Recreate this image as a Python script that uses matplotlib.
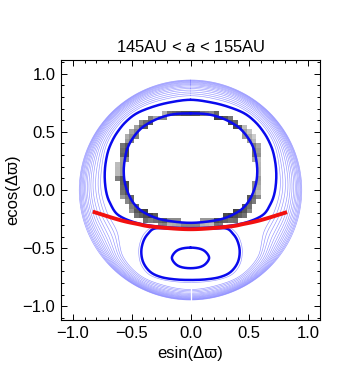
import numpy as np
import matplotlib
matplotlib.use('Agg')
import matplotlib.pyplot as plt
from matplotlib.ticker import MultipleLocator, FuncFormatter, FixedLocator

plt.rcParams['font.family'] = ['Liberation Sans', 'DejaVu Sans']
plt.rcParams['mathtext.fontset'] = 'custom'
plt.rcParams['mathtext.it'] = 'Liberation Sans:italic'
plt.rcParams['mathtext.rm'] = 'Liberation Sans'

# ---------------- data ----------------
title = "145AU < $a$ < 155AU"
xlabel = "esin(Δϖ)"
ylabel = "ecos(Δϖ)"
tick_values = [-1.0, -0.5, 0.0, 0.5, 1.0]

# symmetric curves: right halves (x >= 0) from top to bottom
inner_loop_x = [0.00, 0.15, 0.28, 0.40, 0.48, 0.535, 0.56, 0.567, 0.555, 0.52, 0.47, 0.40, 0.28, 0.14, 0.00]
inner_loop_y = [0.658, 0.650, 0.612, 0.545, 0.46, 0.36, 0.25, 0.15, 0.05, -0.05, -0.13, -0.19, -0.245, -0.272, -0.282]

outer_loop_x = [0.00, 0.174, 0.32, 0.458, 0.555, 0.628, 0.675, 0.705, 0.725, 0.728, 0.713, 0.68, 0.62, 0.50, 0.35, 0.18, 0.00]
outer_loop_y = [0.775, 0.753, 0.715, 0.658, 0.58, 0.487, 0.40, 0.315, 0.20, 0.086, -0.03, -0.12, -0.21, -0.27, -0.305, -0.322, -0.328]

lower_loop_x = [0.00, 0.16, 0.30, 0.36, 0.40, 0.418, 0.40, 0.34, 0.25, 0.13, 0.00]
lower_loop_y = [-0.333, -0.333, -0.33, -0.375, -0.44, -0.53, -0.625, -0.705, -0.748, -0.768, -0.773]

small_loop_x = [0.00, 0.08, 0.13, 0.158, 0.13, 0.08, 0.00]
small_loop_y = [-0.495, -0.505, -0.533, -0.583, -0.633, -0.662, -0.672]

island_contour_x = [0.00, 0.16, 0.31, 0.385, 0.425, 0.44, 0.422, 0.36, 0.26, 0.13, 0.00]
island_contour_y = [-0.318, -0.318, -0.315, -0.365, -0.44, -0.53, -0.635, -0.72, -0.765, -0.788, -0.794]

red_x = [-0.83, -0.60, -0.45, -0.32, 0.00, 0.32, 0.45, 0.60, 0.82]
red_y = [-0.186, -0.258, -0.292, -0.315, -0.337, -0.315, -0.292, -0.258, -0.19]

# light contours outside the separatrix (polar about origin, right side)
ring_angles_deg = [90, 75, 60, 45, 30, 15, 0, -15, -30, -45, -60, -75, -90]
ring_inner_r = [0.81, 0.81, 0.825, 0.83, 0.815, 0.78, 0.76, 0.735, 0.72, 0.81, 0.85, 0.85, 0.855]
ring_outer_r = 0.945
ring_fracs = [0.0, 0.12, 0.24, 0.36, 0.46, 0.55, 0.63, 0.70, 0.76, 0.82, 0.87, 0.92, 0.96, 1.0]

# gray particle density band along the inner loop (angle about loop centre)
band_center = (0.0, 0.19)
band_angles_deg = [0, 15, 30, 45, 60, 75, 90, 105, 120, 135, 150, 165, 180,
                   195, 210, 225, 240, 255, 270, 285, 300, 315, 330, 345]
band_gray = [0.65, 0.45, 0.60, 0.30, 0.25, 0.45, 0.30, 0.35, 0.55, 0.35, 0.50, 0.30, 0.55,
             0.30, 0.40, 0.25, 0.35, 0.55, 0.45, 0.60, 0.30, 0.25, 0.35, 0.55]
band_width = [0.05, 0.05, 0.05, 0.04, 0.035, 0.03, 0.025, 0.03, 0.035, 0.045, 0.055, 0.06, 0.06,
              0.06, 0.06, 0.06, 0.05, 0.045, 0.045, 0.045, 0.05, 0.06, 0.06, 0.05]


# ---------------- helpers ----------------
def catmull(pts, closed, n=14):
    P = np.asarray(pts, dtype=float)
    if closed:
        P = np.vstack([P[-1], P, P[0], P[1]])
    else:
        P = np.vstack([2 * P[0] - P[1], P, 2 * P[-1] - P[-2]])
    t = np.linspace(0, 1, n, endpoint=False)[:, None]
    out = []
    for i in range(1, len(P) - 2):
        p0, p1, p2, p3 = P[i - 1], P[i], P[i + 1], P[i + 2]
        seg = 0.5 * (2 * p1 + (-p0 + p2) * t + (2 * p0 - 5 * p1 + 4 * p2 - p3) * t ** 2
                     + (-p0 + 3 * p1 - 3 * p2 + p3) * t ** 3)
        out.append(seg)
    out.append(P[1:2] if closed else P[-2:-1])
    return np.vstack(out)


def mirror_loop(xs, ys):
    right = list(zip(xs, ys))
    left = [(-x, y) for x, y in zip(xs[1:-1], ys[1:-1])][::-1]
    return catmull(right + left, closed=True)


fig = plt.figure(figsize=(3.6, 3.8), dpi=100)
ax = fig.add_axes([61 / 360, 60 / 380, 259 / 360, 260 / 380])
ax.set_xlim(-1.1, 1.1)
ax.set_ylim(-1.117, 1.117)

# light contour rings
ang = np.radians(ring_angles_deg)
inner_r = np.asarray(ring_inner_r)
for f in ring_fracs:
    r = inner_r + f * (ring_outer_r - inner_r)
    c = mirror_loop(list(r * np.cos(ang)), list(r * np.sin(ang)))
    ax.plot(c[:, 0], c[:, 1], color='#7070ff', lw=0.45, alpha=0.75, zorder=1)

c = mirror_loop(island_contour_x, island_contour_y)
ax.plot(c[:, 0], c[:, 1], color='#7070ff', lw=0.45, alpha=0.75, zorder=1)

# white seam at x = 0 through the bottom rings
ax.plot([0, 0], [-0.955, -0.80], color='white', lw=0.9, zorder=1.5)

# gray density band
loop_in = mirror_loop(inner_loop_x, inner_loop_y)
cx, cy = band_center
th = np.arctan2(loop_in[:, 1] - cy, loop_in[:, 0] - cx)
rho = np.hypot(loop_in[:, 0] - cx, loop_in[:, 1] - cy)
order = np.argsort(th)
edges = np.arange(-1.12, 1.1201, 0.04)
cen = 0.5 * (edges[:-1] + edges[1:])
X, Y = np.meshgrid(cen, cen)
T = np.arctan2(Y - cy, X - cx)
R = np.hypot(X - cx, Y - cy)
rl = np.interp(T, th[order], rho[order], period=2 * np.pi)
d = R - rl
deg = np.degrees(T) % 360
idx = np.rint(deg / 15).astype(int) % len(band_angles_deg)
wid = np.asarray(band_width)[idx]
g = np.asarray(band_gray)[idx]
mask = (d > -0.02) & (d < wid)
val = np.clip(g + 0.2 * np.clip(d, 0, None) / wid, 0, 0.85)
val = np.ma.masked_where(~mask, val)
ax.pcolormesh(edges, edges, val, cmap='gray', vmin=0, vmax=1, zorder=2, shading='flat')

# thick blue contours
for xs, ys in [(outer_loop_x, outer_loop_y), (inner_loop_x, inner_loop_y),
               (lower_loop_x, lower_loop_y), (small_loop_x, small_loop_y)]:
    c = mirror_loop(xs, ys)
    ax.plot(c[:, 0], c[:, 1], color='#0a0aee', lw=1.8, zorder=3, solid_capstyle='round')

# red curve
c = catmull(list(zip(red_x, red_y)), closed=False)
ax.plot(c[:, 0], c[:, 1], color='#f21010', lw=2.8, zorder=4, solid_capstyle='butt')

# axes styling
fmt = FuncFormatter(lambda v, p: ('%.1f' % v).replace('-', '\u2212'))
for axis in (ax.xaxis, ax.yaxis):
    axis.set_major_locator(FixedLocator(tick_values))
    axis.set_minor_locator(MultipleLocator(0.1))
    axis.set_major_formatter(fmt)
ax.tick_params(which='both', direction='in', top=True, right=True, width=0.7, labelsize=12, pad=4)
ax.tick_params(which='major', length=4)
ax.tick_params(which='minor', length=2.2)
for s in ax.spines.values():
    s.set_linewidth(0.8)

ax.set_title(title, fontsize=12, pad=6)
ax.set_xlabel(xlabel, fontsize=12, labelpad=4)
ax.set_ylabel(ylabel, fontsize=12, labelpad=2)

fig.savefig('out.png', dpi=100)
